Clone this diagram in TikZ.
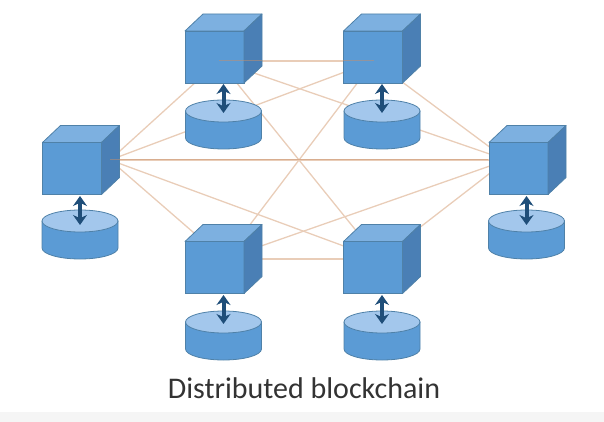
\documentclass[tikz,border=0pt]{standalone}
\usepackage{fontspec}
\setmainfont{Carlito}
\usepackage{tikz}
\usetikzlibrary{shapes.geometric,arrows.meta}
\definecolor{faceblue}{HTML}{5B9BD5}
\definecolor{topblue}{HTML}{7DB0E0}
\definecolor{sideblue}{HTML}{4A7FB5}
\definecolor{edgeblue}{HTML}{4F81A8}
\definecolor{lidblue}{HTML}{A3C7EC}
\definecolor{arrowblue}{HTML}{1F4E79}
\definecolor{linktan}{HTML}{E9CDB8}
\definecolor{linkdark}{HTML}{C98F68}
\tikzset{
    box/.style = {draw=edgeblue, fill=faceblue, line width=0.8pt, minimum width=59pt, minimum height=52pt, inner sep=0pt, outer sep=0pt},
    roof/.style = {draw=edgeblue, fill=topblue, line width=0.8pt, line join=round},
    wall/.style = {draw=edgeblue, fill=sideblue, line width=0.8pt, line join=round},
    drumbody/.style = {draw=edgeblue, fill=faceblue, line width=0.8pt, line join=round},
    lid/.style = {draw=edgeblue, fill=lidblue, line width=0.8pt, shape=ellipse, minimum width=76pt, minimum height=22pt, inner sep=0pt, outer sep=0pt},
    link/.style = {draw=linktan, line width=1.3pt},
    faintlink/.style = {draw=linkdark, line width=1pt, opacity=0.5},
    swap/.style = {draw=arrowblue, line width=4pt, {Stealth[length=10pt,width=14pt]}-{Stealth[length=10pt,width=14pt]}},
}
% front face with its roof and wall
\newcommand{\block}[2]{
    \node[box] (#1) at (#2) {};
    \draw[roof] (#1.north west) -- ++(18,-17) -- ++(59,0) -- (#1.north east) -- cycle;
    \draw[wall] (#1.north east) -- ++(18,-17) -- ++(0,52) -- (#1.south east) -- cycle;
}
% body first, then the lid on top of it
\newcommand{\drum}[2]{
    \coordinate (#1) at (#2);
    \draw[drumbody] (#1) ++(-38,0) -- ++(0,27) arc[start angle=180, end angle=360, x radius=38pt, y radius=11pt] -- ++(0,-27) -- cycle;
    \node[lid] (#1top) at (#1) {};
}
\begin{document}
\begin{tikzpicture}[x=1pt,y=-1pt]
    \useasboundingbox (0,0) rectangle (604,422);
    \fill[black!4] (0,412) rectangle (604,422);
    % ends of the links
    \coordinate (h1) at (219,61);
    \coordinate (h2) at (374,61);
    \coordinate (h3) at (110,160);
    \coordinate (h4) at (507,160);
    \coordinate (h5) at (224,259);
    \coordinate (h6) at (379,259);
    \foreach \a/\b in {h1/h2,h1/h3,h1/h4,h1/h6,h2/h3,h2/h4,h2/h5,h3/h4,h3/h5,h3/h6,h4/h5,h4/h6,h5/h6}
        \draw[link] (\a) -- (\b);
    \block{b1}{214.5,57}
    \block{b2}{373,57}
    \block{b3}{72,168.5}
    \block{b4}{518.5,168.5}
    \block{b5}{214.5,267.5}
    \block{b6}{373,267.5}
    \drum{d1}{223.5,111}
    \drum{d2}{382,111}
    \drum{d3}{80,221}
    \drum{d4}{526.5,221}
    \drum{d5}{223.5,322}
    \drum{d6}{382,322}
    % links seen through the blocks
    \coordinate (e1) at (262,61);
    \coordinate (e2) at (343,61);
    \coordinate (e4) at (488,160);
    \draw[faintlink] (h1) -- (e1);
    \draw[faintlink] (e2) -- (h2);
    \draw[faintlink] (h3) -- (e4);
    \coordinate (a1) at (223.5,84);
    \coordinate (a2) at (382,84);
    \coordinate (a3) at (80,196);
    \coordinate (a4) at (526.5,196);
    \coordinate (a5) at (223.5,295);
    \coordinate (a6) at (382,295);
    \coordinate (c1) at (223.5,113);
    \coordinate (c2) at (382,113);
    \coordinate (c3) at (80,225);
    \coordinate (c4) at (526.5,225);
    \coordinate (c5) at (223.5,324);
    \coordinate (c6) at (382,324);
    \foreach \i in {1,...,6}
        \draw[swap] (a\i) -- (c\i);
    \node[font=\fontsize{30}{34}\selectfont, text=black!80] (title) at (304,388) {Distributed blockchain};
\end{tikzpicture}
\end{document}
